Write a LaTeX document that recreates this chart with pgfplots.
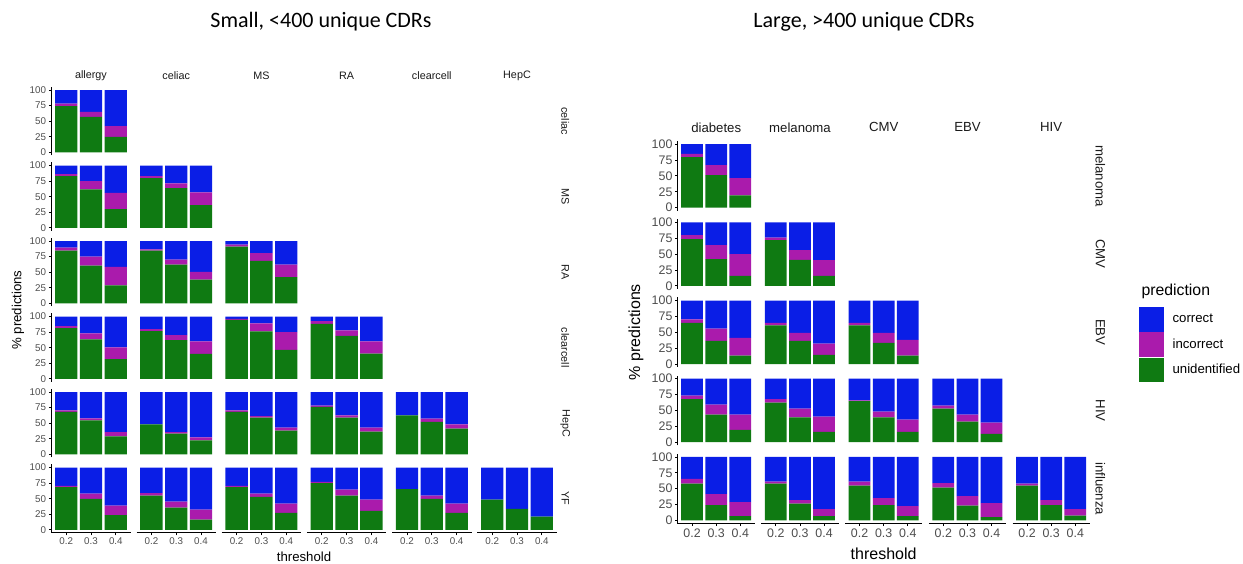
\documentclass[border=0pt]{standalone}
\usepackage{pgfplots}
\pgfplotsset{compat=1.18}
\usepackage{fontspec}
\setmainfont{Liberation Sans}
\newfontfamily\titlefont{Carlito}
\definecolor{cC}{RGB}{10,30,230}
\definecolor{cI}{RGB}{170,27,172}
\definecolor{cU}{RGB}{15,122,18}
\definecolor{tick}{RGB}{77,77,77}
\definecolor{strip}{RGB}{26,26,26}
\pgfplotsset{
 panel/.style={scale only axis, ybar stacked, bar width=0.9, xmin=0.4, xmax=3.6, ymin=-5, ymax=105,
   enlargelimits=false, anchor=south west, axis x line*=bottom, axis y line*=left,
   x axis line style={draw=none}, y axis line style={draw=none}, xtick=\empty, ytick=\empty,
   tick align=outside, major tick length=2.5pt, tick style={black, line width=0.8pt},
   /pgf/number format/assume math mode=true, clip=false},
 lp/.style={panel, width=79.4pt, height=68.5pt,
   ticklabel style={font=\fontsize{9.8}{10}\selectfont, text=tick}},
 rp/.style={panel, width=77.2pt, height=69.85pt,
   ticklabel style={font=\fontsize{12.4}{13}\selectfont, text=tick}},
 ycol/.style={y axis line style={draw=black, line width=1.1pt, -}, ytick={0,25,50,75,100},
   yticklabel style={inner sep=1pt, xshift=-1.5pt}},
 xrow/.style={x axis line style={draw=black, line width=1.1pt, -}, xtick={1,2,3}, xticklabels={0.2,0.3,0.4},
   xticklabel style={inner sep=1pt, yshift=-1.5pt}},
}
\newcommand{\panel}[5]{%
 \begin{axis}[#1, at={(#2pt,-#3pt)}, #4]
 \addplot[fill=cU,draw=none] table[x=t,y=u,row sep=\\]{#5};
 \addplot[fill=cI,draw=none] table[x=t,y=i,row sep=\\]{#5};
 \addplot[fill=cC,draw=none] table[x=t,y=c,row sep=\\]{#5};
 \end{axis}}
\begin{document}
\begin{tikzpicture}
\useasboundingbox (0pt,0pt) rectangle (1243pt,-564pt);
% ---------------- LEFT GRID ----------------
% row celiac
\panel{lp}{51.3}{155.4}{ycol}{t u i c\\1 74.3 3.7 22.0\\2 56.7 8.0 35.3\\3 24.6 17.6 57.8\\}
% row MS
\panel{lp}{51.3}{230.9}{ycol}{t u i c\\1 83.0 3.2 13.8\\2 61.7 13.3 25.0\\3 29.8 26.1 44.1\\}
\panel{lp}{136.5}{230.9}{}{t u i c\\1 79.8 3.2 17.0\\2 63.8 7.5 28.7\\3 36.2 20.8 43.0\\}
% row RA
\panel{lp}{51.3}{306.4}{ycol}{t u i c\\1 84.5 4.8 10.7\\2 60.4 14.5 25.1\\3 28.9 29.4 41.7\\}
\panel{lp}{136.5}{306.4}{}{t u i c\\1 84.5 2.1 13.4\\2 62.0 8.0 30.0\\3 38.0 12.3 49.7\\}
\panel{lp}{221.7}{306.4}{}{t u i c\\1 91.0 3.0 6.0\\2 68.0 12.7 19.3\\3 42.2 19.8 38.0\\}
% row clearcell
\panel{lp}{51.3}{381.9}{ycol}{t u i c\\1 81.4 3.2 15.4\\2 63.3 9.6 27.1\\3 31.4 19.1 49.5\\}
\panel{lp}{136.5}{381.9}{}{t u i c\\1 76.6 3.2 20.2\\2 62.2 8.0 29.8\\3 39.9 20.2 39.9\\}
\panel{lp}{221.7}{381.9}{}{t u i c\\1 94.7 1.6 3.7\\2 76.0 12.8 11.2\\3 46.3 28.7 25.0\\}
\panel{lp}{306.9}{381.9}{}{t u i c\\1 88.3 4.3 7.4\\2 69.1 8.6 22.3\\3 40.4 19.7 39.9\\}
% row HepC
\panel{lp}{51.3}{457.4}{ycol}{t u i c\\1 68.3 2.1 29.6\\2 54.5 3.2 42.3\\3 28.6 6.8 64.6\\}
\panel{lp}{136.5}{457.4}{}{t u i c\\1 48.1 0 51.9\\2 33.3 2.1 64.6\\3 22.2 4.8 73.0\\}
\panel{lp}{221.7}{457.4}{}{t u i c\\1 68.3 2.1 29.6\\2 58.7 2.7 38.6\\3 38.1 4.8 57.1\\}
\panel{lp}{306.9}{457.4}{}{t u i c\\1 76.2 2.1 21.7\\2 58.7 3.7 37.6\\3 36.5 6.4 57.1\\}
\panel{lp}{392.1}{457.4}{}{t u i c\\1 62.4 0 37.6\\2 51.9 5.2 42.9\\3 41.3 6.8 51.9\\}
% row YF
\panel{lp}{51.3}{532.9}{ycol,xrow}{t u i c\\1 68.6 2.1 29.3\\2 49.5 8.5 42.0\\3 23.4 15.4 61.2\\}
\panel{lp}{136.5}{532.9}{xrow}{t u i c\\1 54.8 4.2 41.0\\2 35.6 9.6 54.8\\3 16.5 15.9 67.6\\}
\panel{lp}{221.7}{532.9}{xrow}{t u i c\\1 68.6 2.1 29.3\\2 52.7 5.3 42.0\\3 27.1 14.9 58.0\\}
\panel{lp}{306.9}{532.9}{xrow}{t u i c\\1 75.0 2.1 22.9\\2 54.8 9.6 35.6\\3 30.3 18.1 51.6\\}
\panel{lp}{392.1}{532.9}{xrow}{t u i c\\1 65.4 0 34.6\\2 49.5 5.3 45.2\\3 27.1 14.9 58.0\\}
\panel{lp}{477.3}{532.9}{xrow}{t u i c\\1 48.4 0 51.6\\2 33.5 0 66.5\\3 21.3 0 78.7\\}
% ---------------- RIGHT GRID ----------------
% row melanoma
\panel{rp}{677.6}{210.8}{ycol}{t u i c\\1 79.6 5.2 15.2\\2 51.3 15.7 33.0\\3 19.4 27.2 53.4\\}
% row CMV
\panel{rp}{677.6}{289.0}{ycol}{t u i c\\1 73.7 6.3 20.0\\2 42.1 22.1 35.8\\3 15.8 34.2 50.0\\}
\panel{rp}{761.35}{289.0}{}{t u i c\\1 72.1 3.7 24.2\\2 41.0 15.3 43.7\\3 15.8 24.7 59.5\\}
% row EBV
\panel{rp}{677.6}{367.2}{ycol}{t u i c\\1 65.0 5.4 29.6\\2 36.5 19.1 44.4\\3 13.2 28.1 58.7\\}
\panel{rp}{761.35}{367.2}{}{t u i c\\1 60.8 4.2 35.0\\2 36.5 12.7 50.8\\3 14.3 18.0 67.7\\}
\panel{rp}{845.1}{367.2}{}{t u i c\\1 60.8 4.2 35.0\\2 33.3 15.9 50.8\\3 13.2 24.9 61.9\\}
% row HIV
\panel{rp}{677.6}{445.4}{ycol}{t u i c\\1 67.7 5.8 26.5\\2 43.4 15.9 40.7\\3 19.6 23.8 56.6\\}
\panel{rp}{761.35}{445.4}{}{t u i c\\1 62.4 5.3 32.3\\2 39.2 13.7 47.1\\3 16.4 23.8 59.8\\}
\panel{rp}{845.1}{445.4}{}{t u i c\\1 64.6 1.5 33.9\\2 39.2 8.9 51.9\\3 16.4 19.0 64.6\\}
\panel{rp}{928.85}{445.4}{}{t u i c\\1 52.9 4.8 42.3\\2 32.3 11.1 56.6\\3 13.2 17.5 69.3\\}
% row influenza
\panel{rp}{677.6}{523.6}{ycol,xrow}{t u i c\\1 57.9 7.4 34.7\\2 24.2 17.4 58.4\\3 6.8 22.1 71.1\\}
\panel{rp}{761.35}{523.6}{xrow}{t u i c\\1 57.9 3.2 38.9\\2 26.3 5.8 67.9\\3 6.8 11.1 82.1\\}
\panel{rp}{845.1}{523.6}{xrow}{t u i c\\1 54.7 6.4 38.9\\2 24.2 11.1 64.7\\3 6.8 15.8 77.4\\}
\panel{rp}{928.85}{523.6}{xrow}{t u i c\\1 51.6 7.3 41.1\\2 23.2 15.2 61.6\\3 5.3 22.1 72.6\\}
\panel{rp}{1012.6}{523.6}{xrow}{t u i c\\1 54.7 3.2 42.1\\2 24.2 7.9 67.9\\3 7.4 10.5 82.1\\}
% ---------------- LEGEND ----------------
\begin{axis}[hide axis, scale only axis, width=1pt, height=1pt, at={(1139pt,-307pt)}, anchor=north west,
  xmin=0, xmax=1, ymin=0, ymax=1,
  legend style={at={(0,1)}, anchor=north west, draw=none, fill=none, inner sep=0pt, row sep=1pt,
    column sep=9pt,
    font=\fontsize{13.2}{14}\selectfont, nodes={inner sep=0pt}},
  legend cell align=left]
\addlegendimage{legend image code/.code={\fill[cC] (0pt,-11.9pt) rectangle (24pt,11.9pt);}}
\addlegendentry{correct}
\addlegendimage{legend image code/.code={\fill[cI] (0pt,-11.9pt) rectangle (24pt,11.9pt);}}
\addlegendentry{incorrect}
\addlegendimage{legend image code/.code={\fill[cU] (0pt,-11.9pt) rectangle (24pt,11.9pt);}}
\addlegendentry{unidentified}
\end{axis}
% ---------------- TEXT ----------------
\node[font=\titlefont\fontsize{22}{24}\selectfont] at (321pt,-22pt) {Small, <400 unique CDRs};
\node[font=\titlefont\fontsize{22}{24}\selectfont] at (864pt,-22pt) {Large, >400 unique CDRs};
\begin{scope}[every node/.style={font=\fontsize{10.8}{12}\selectfont, text=strip}]
\node at (91pt,-76pt) {allergy};
\node at (176.2pt,-76pt) {celiac};
\node at (261.4pt,-76pt) {MS};
\node at (346.6pt,-76pt) {RA};
\node at (431.8pt,-76pt) {clearcell};
\node at (517pt,-76pt) {HepC};
\node[rotate=-90] at (565.3pt,-121.15pt) {celiac};
\node[rotate=-90] at (565.3pt,-196.65pt) {MS};
\node[rotate=-90] at (565.3pt,-272.15pt) {RA};
\node[rotate=-90] at (565.3pt,-347.65pt) {clearcell};
\node[rotate=-90] at (565.3pt,-423.15pt) {HepC};
\node[rotate=-90] at (565.3pt,-498.65pt) {YF};
\end{scope}
\begin{scope}[every node/.style={font=\fontsize{13.2}{14}\selectfont, text=strip}]
\node at (716.2pt,-127.3pt) {diabetes};
\node at (800pt,-127.3pt) {melanoma};
\node at (883.7pt,-127.3pt) {CMV};
\node at (967.5pt,-127.3pt) {EBV};
\node at (1051.2pt,-127.3pt) {HIV};
\node[rotate=-90] at (1100.4pt,-175.9pt) {melanoma};
\node[rotate=-90] at (1100.4pt,-254.1pt) {CMV};
\node[rotate=-90] at (1100.4pt,-332.3pt) {EBV};
\node[rotate=-90] at (1100.4pt,-410.5pt) {HIV};
\node[rotate=-90] at (1100.4pt,-488.7pt) {influenza};
\end{scope}
\node[font=\fontsize{13.2}{14}\selectfont, rotate=90] at (18pt,-310pt) {\% predictions};
\node[font=\fontsize{13.2}{14}\selectfont] at (304pt,-557pt) {threshold};
\node[font=\fontsize{16}{17}\selectfont, rotate=90] at (636pt,-332pt) {\% predictions};
\node[font=\fontsize{16}{17}\selectfont] at (883.6pt,-554pt) {threshold};
\node[font=\fontsize{15.8}{17}\selectfont, anchor=west] at (1138pt,-291pt) {prediction};
\end{tikzpicture}
\end{document}
